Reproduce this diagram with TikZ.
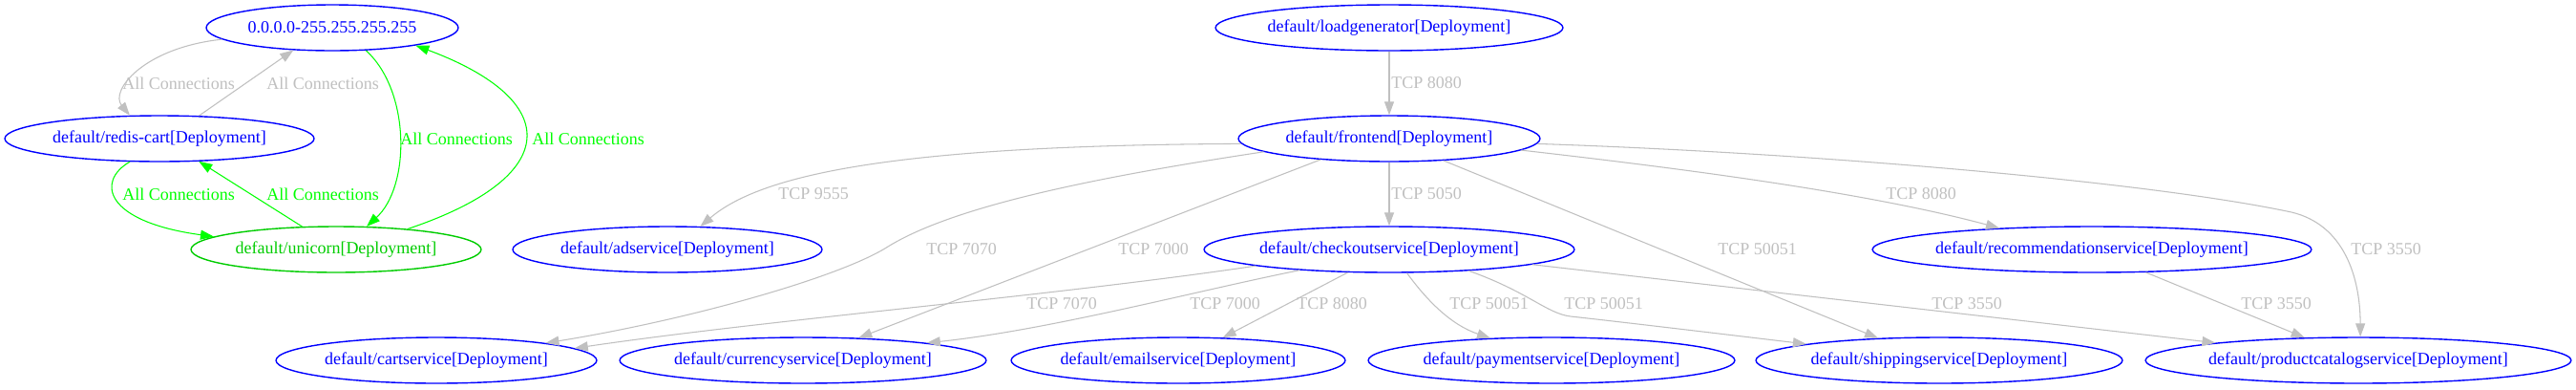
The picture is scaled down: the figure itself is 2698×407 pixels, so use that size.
\documentclass[tikz,border=0pt]{standalone}
\usepackage{fontspec}
\setmainfont{Liberation Serif}
\usetikzlibrary{shapes.geometric,arrows.meta}
\definecolor{eg}{HTML}{C0C0C0}
\definecolor{lg}{HTML}{00FF00}
\definecolor{ug}{HTML}{00CD00}
\definecolor{nb}{HTML}{0000FF}
\newcommand\ztxt[1]{\makebox[0pt]{#1}}
\begin{document}
\begin{tikzpicture}[x=0.02cm,y=-0.02cm,
  svc/.style={ellipse, draw=nb, text=nb, line width=0.8pt, inner sep=0pt,
    minimum height=0.96cm, minimum width=#1*0.04cm,
    font=\fontsize{10.24pt}{12pt}\selectfont},
  usvc/.style={svc=#1, draw=ug, text=ug},
  ge/.style={draw=eg, line width=0.6pt, -{Triangle[length=0.28cm,width=0.2cm]}},
  gre/.style={draw=lg, line width=0.6pt, -{Triangle[length=0.28cm,width=0.2cm]}},
  gl/.style={anchor=west, inner sep=0pt, text=eg, font=\fontsize{10.24pt}{12pt}\selectfont},
  grl/.style={gl, text=lg},
]
\fill[white] (0,0) rectangle (2698,407);
\useasboundingbox (0,0) rectangle (2698,407);

% nodes
\node[svc=132] (ip) at (348,29) {\ztxt{0.0.0.0-255.255.255.255}};
\node[svc=162] (redis) at (167,145) {\ztxt{default/redis-cart[Deployment]}};
\node[usvc=152] (unicorn) at (352,261) {\ztxt{default/unicorn[Deployment]}};
\node[svc=162] (ad) at (699,261) {\ztxt{default/adservice[Deployment]}};
\node[svc=168] (cart) at (457,377) {\ztxt{default/cartservice[Deployment]}};
\node[svc=192] (cur) at (841,377) {\ztxt{default/currencyservice[Deployment]}};
\node[svc=175] (email) at (1234,377) {\ztxt{default/emailservice[Deployment]}};
\node[svc=182] (load) at (1455,29) {\ztxt{default/loadgenerator[Deployment]}};
\node[svc=158] (front) at (1455,145) {\ztxt{default/frontend[Deployment]}};
\node[svc=194] (check) at (1455,261) {\ztxt{default/checkoutservice[Deployment]}};
\node[svc=192] (pay) at (1625,377) {\ztxt{default/paymentservice[Deployment]}};
\node[svc=192] (ship) at (2031,377) {\ztxt{default/shippingservice[Deployment]}};
\node[svc=230] (rec) at (2191,261) {\ztxt{default/recommendationservice[Deployment]}};
\node[svc=223] (prod) at (2470,377) {\ztxt{default/productcatalogservice[Deployment]}};

% edges
\draw[ge] (ip.186) .. controls (150,50) and (115,95) .. (redis.142);
\draw[ge] (redis.30) -- (ip.210);
\draw[gre] (ip.326) .. controls (430,95) and (430,195) .. (unicorn.37);
\draw[gre] (unicorn.16) .. controls (590,185) and (590,105) .. (ip.348);
\draw[gre] (redis.218) .. controls (100,190) and (110,232) .. (unicorn.174);
\draw[gre] (unicorn.146) -- (redis.330);
\draw[ge] (load.south) -- (front.north);
\draw[ge] (front.south) -- (check.north);
\draw[ge] (front.182) .. controls (950,152) and (800,180) .. (ad.35);
\draw[ge] (front.186) .. controls (1150,185) and (1000,215) .. (930,258)
   .. controls (880,290) and (720,335) .. (cart.9);
\draw[ge] (front.197) -- (cur.22);
\draw[ge] (front.338) -- (ship.160);
\draw[ge] (front.355) .. controls (1750,175) and (1950,200) .. (rec.167);
\draw[ge] (front.358) .. controls (1900,160) and (2250,190) .. (2400,222)
   .. controls (2455,235) and (2472,290) .. (prod.85);
\draw[ge] (check.187) .. controls (1100,310) and (800,335) .. (cart.5);
\draw[ge] (check.193) .. controls (1250,305) and (1100,345) .. (cur.8);
\draw[ge] (check.209) -- (email.27);
\draw[ge] (check.307) .. controls (1495,315) and (1520,340) .. (pay.160);
\draw[ge] (check.345) .. controls (1600,305) and (1620,328) .. (1645,331)
   .. controls (1700,337) and (1800,349) .. (ship.173);
\draw[ge] (check.354) -- (prod.173);
\draw[ge] (rec.337) -- (prod.157);

% edge labels
\node[gl] (l1) at (128,87) {All Connections};
\node[gl] (l2) at (279,87) {All Connections};
\node[grl] (l3) at (419,145) {All Connections};
\node[grl] (l4) at (557,145) {All Connections};
\node[grl] (l5) at (128,203) {All Connections};
\node[grl] (l6) at (279,203) {All Connections};
\node[gl] (l7) at (1457,87) {TCP 8080};
\node[gl] (l8) at (1457,203) {TCP 5050};
\node[gl] (l9) at (815,203) {TCP 9555};
\node[gl] (l10) at (970,261) {TCP 7070};
\node[gl] (l11) at (1171,261) {TCP 7000};
\node[gl] (l12) at (1799,261) {TCP 50051};
\node[gl] (l13) at (1975,203) {TCP 8080};
\node[gl] (l14) at (2462,261) {TCP 3550};
\node[gl] (l15) at (1075,318) {TCP 7070};
\node[gl] (l16) at (1246,318) {TCP 7000};
\node[gl] (l17) at (1358,318) {TCP 8080};
\node[gl] (l18) at (1518,318) {TCP 50051};
\node[gl] (l19) at (1638,318) {TCP 50051};
\node[gl] (l20) at (2023,318) {TCP 3550};
\node[gl] (l21) at (2347,318) {TCP 3550};
\end{tikzpicture}
\end{document}
